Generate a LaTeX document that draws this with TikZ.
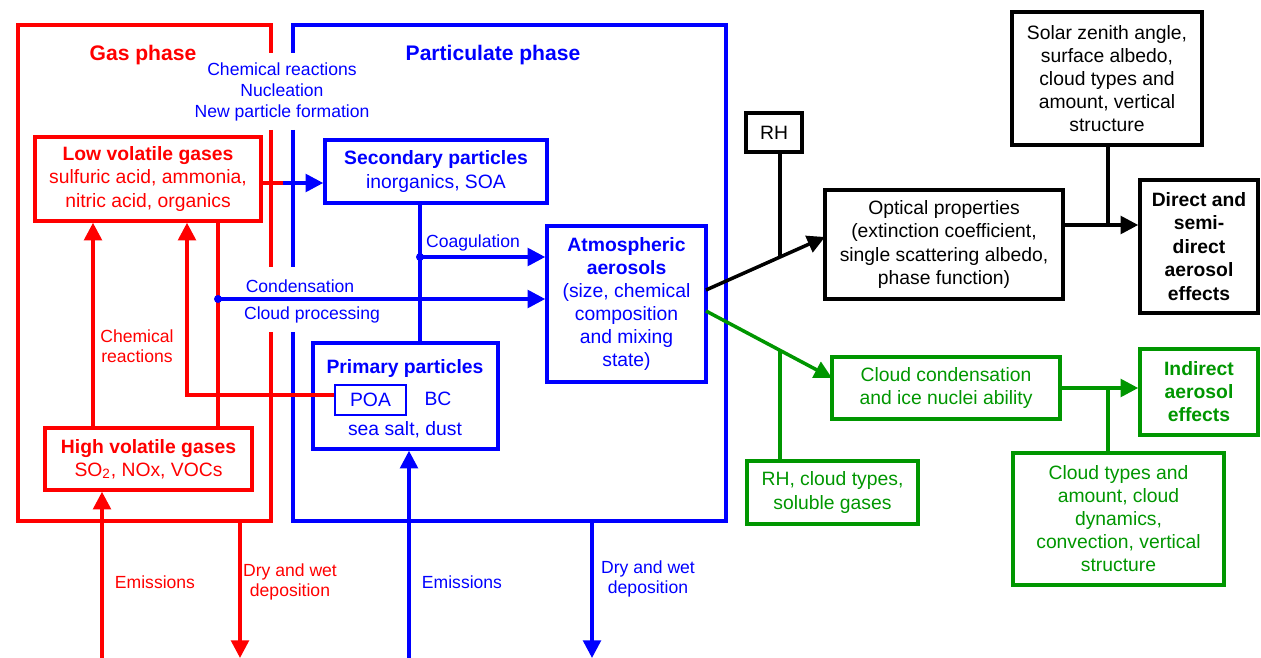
\documentclass[tikz,border=0pt]{standalone}
\usepackage{fontspec}
\setmainfont{Liberation Sans}
\usetikzlibrary{arrows.meta}
\definecolor{aerogreen}{RGB}{0,150,0}

\begin{document}
\begin{tikzpicture}[x=0.02cm, y=-0.02cm, line width=2pt,
  txt/.style={align=center, inner sep=2pt, font=\fontsize{11}{13.1}\selectfont},
  box/.style={txt, draw, rectangle},
  boxsize/.style 2 args={minimum width=#1*0.02cm, minimum height=#2*0.02cm},
  lbl/.style={align=center, inner sep=1pt, font=\fontsize{10}{11.7}\selectfont},
  ttl/.style={font=\fontsize{12}{14}\selectfont\bfseries},
  arr/.style={-{Triangle[length=10pt,width=10pt]}}]
\useasboundingbox (0,0) rectangle (1261,658);

\draw[red] (271,53) -- (271,25) -- (18,25) -- (18,521) -- (271,521) -- (271,332);
\draw[red] (271,130) -- (271,267);
\draw[blue] (293,53) -- (293,25) -- (726,25) -- (726,521) -- (293,521) -- (293,332);
\draw[blue] (293,130) -- (293,267);

\node[ttl, text=red] (gastitle) at (143,55) {Gas phase};
\node[ttl, text=blue] (parttitle) at (493,55) {Particulate phase};
\node[lbl, text=blue] (chemlbl) at (282,92) {Chemical reactions\\Nucleation\\New particle formation};

\node[box, red, boxsize={226}{84}] (lowvol) at (148,179) {\textbf{Low volatile gases}\\sulfuric acid, ammonia,\\nitric acid, organics};
\node[box, red, boxsize={207}{62}] (highvol) at (148.5,459) {\textbf{High volatile gases}\\SO\textsubscript{2}, NOx, VOCs};
\node[box, blue, boxsize={222}{63}] (sec) at (436,171.5) {\textbf{Secondary particles}\\inorganics, SOA};
\node[box, blue, boxsize={159}{156}] (atm) at (626.5,304) {\textbf{Atmospheric}\\\textbf{aerosols}\\(size, chemical\\composition\\and mixing\\state)};
\node[box, blue, boxsize={185}{106}] (prim) at (405.5,396) {};
\node[txt, text=blue, font=\fontsize{11}{13.1}\selectfont\bfseries] (primttl) at (405,369) {Primary particles};
\node[box, blue, line width=1.5pt, boxsize={71}{30}] (poa) at (370.5,400) {POA};
\node[txt, text=blue] (bc) at (438,399) {BC};
\node[txt, text=blue] (seasalt) at (405,430) {sea salt, dust};

\node[box, boxsize={56}{39}] (rh) at (774,132.5) {RH};
\node[box, boxsize={238}{109}] (optical) at (944,244.5) {Optical properties\\(extinction coefficient,\\single scattering albedo,\\phase function)};
\node[box, boxsize={190}{133}] (solar) at (1107,78.5) {Solar zenith angle,\\surface albedo,\\cloud types and\\amount, vertical\\structure};
\node[box, boxsize={118}{133}, font=\fontsize{11}{13.4}\selectfont\bfseries] (direct) at (1199,246.5) {Direct and\\semi-\\direct\\aerosol\\effects};

\node[box, aerogreen, boxsize={228}{62}] (cond) at (946,388) {Cloud condensation\\and ice nuclei ability};
\node[box, aerogreen, boxsize={118}{86}] (indirect) at (1199,392) {\textbf{Indirect}\\\textbf{aerosol}\\\textbf{effects}};
\node[box, aerogreen, boxsize={171}{63}] (rhcloud) at (832.5,492.5) {RH, cloud types,\\soluble gases};
\node[box, aerogreen, boxsize={211}{132}] (cloudtypes) at (1118.5,519) {Cloud types and\\amount, cloud\\dynamics,\\convection, vertical\\structure};

\node[lbl, text=blue] (coaglbl) at (473,243) {Coagulation};
\node[lbl, text=blue] (condlbl) at (300,286) {Condensation};
\node[lbl, text=blue] (cloudlbl) at (312,315) {Cloud processing};
\node[lbl, text=red] (chemrlbl) at (137,346) {Chemical\\reactions};
\node[lbl, text=red] (emrlbl) at (155,582) {Emissions};
\node[lbl, text=red] (deprlbl) at (290,582) {Dry and wet\\deposition};
\node[lbl, text=blue] (emblbl) at (462,582) {Emissions};
\node[lbl, text=blue] (depblbl) at (648,579) {Dry and wet\\deposition};

\coordinate (c1) at (283,183);
\draw[red] (c1 -| lowvol.east) -- (c1);
\draw[blue, arr] (c1) -- (c1 -| sec.west);

\coordinate (jc) at (420,257);
\draw[blue] (jc |- sec.south) -- (jc |- prim.north);
\draw[blue, arr] (jc) -- (jc -| atm.west);
\fill[blue] (jc) circle (0.08cm);

\coordinate (jd) at (218,299);
\coordinate (ja) at (93,0);
\coordinate (jp) at (187,395);
\draw[red] (jd |- lowvol.south) -- (jd |- highvol.north);
\draw[red, arr] (ja |- highvol.north) -- (ja |- lowvol.south);
\draw[red, arr] (jp -| poa.west) -- (jp) -- (jp |- lowvol.south);
\draw[blue, arr] (jd) -- (jd -| atm.west);
\fill[blue] (jd) circle (0.08cm);

\coordinate (eg) at (102,658);
\draw[red, arr] (eg) -- (eg |- highvol.south);
\coordinate (dg) at (240,521);
\coordinate (dgend) at (240,658);
\draw[red, arr] (dg) -- (dgend);
\coordinate (ep) at (409,658);
\draw[blue, arr] (ep) -- (ep |- prim.south);
\coordinate (dp) at (592,521);
\coordinate (dpend) at (592,658);
\draw[blue, arr] (dp) -- (dpend);

\coordinate (ka) at (706,290);
\coordinate (kb) at (825,237);
\coordinate (kr) at (780,257);
\draw[arr] (ka) -- (kb);
\draw (kr |- rh.south) -- (kr);
\coordinate (ks) at (1108,225);
\draw[arr] (ks -| optical.east) -- (ks -| direct.west);
\draw (ks |- solar.south) -- (ks);

\coordinate (ga) at (706,311);
\coordinate (gb) at (832,378);
\coordinate (gr) at (780,350);
\draw[aerogreen, arr] (ga) -- (gb);
\draw[aerogreen] (gr |- rhcloud.north) -- (gr);
\coordinate (gt) at (1108,388);
\draw[aerogreen, arr] (gt -| cond.east) -- (gt -| indirect.west);
\draw[aerogreen] (gt |- cloudtypes.north) -- (gt);
\end{tikzpicture}
\end{document}
